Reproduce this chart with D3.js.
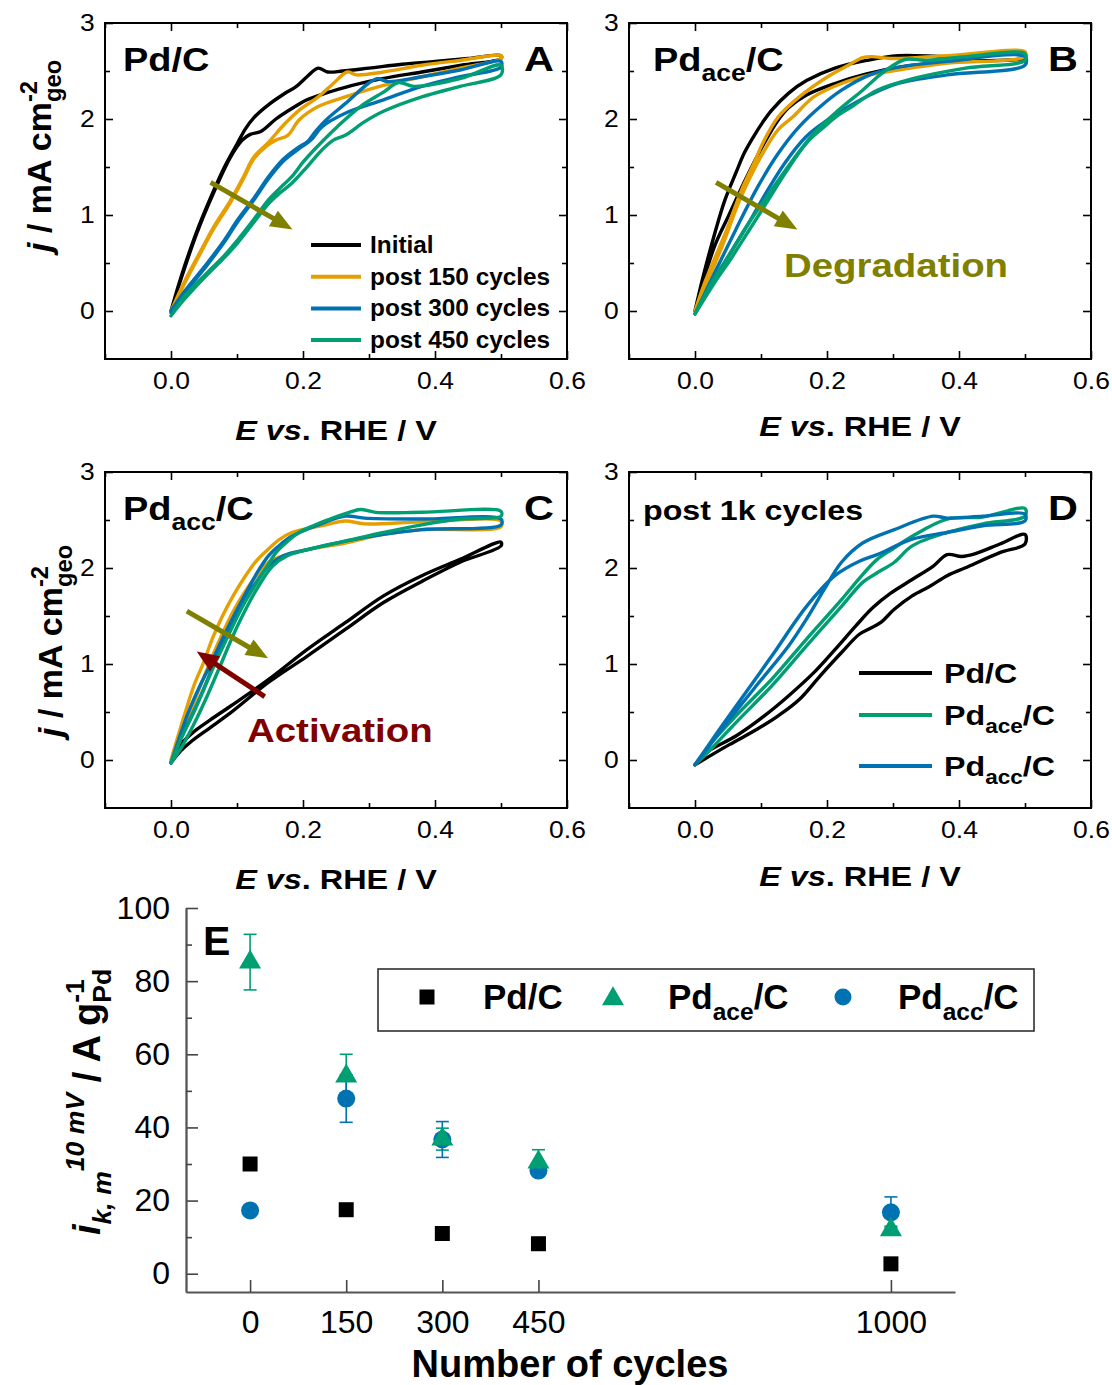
<!DOCTYPE html>
<html>
<head>
<meta charset="utf-8">
<script src="https://cdn.jsdelivr.net/npm/d3@7"></script>
<style>
  body { margin: 0; background: #fff; }
  svg { display: block; }
  text { font-family: "Liberation Sans", Arial, sans-serif; }
</style>
</head>
<body>
<div id="fig"></div>
<script>
// ---- data: polarisation loops [E (V vs RHE), j (mA cm-2)] ----
// panel A : Pd/C
var aInitial = [[0,0],[0.015,0.35],[0.038,0.81],[0.06,1.18],[0.081,1.5],[0.1,1.74],[0.113,1.9],[0.125,2.01],[0.148,2.15],[0.171,2.26],[0.19,2.34],[0.206,2.44],[0.223,2.53],[0.237,2.49],[0.26,2.5],[0.3,2.53],[0.35,2.57],[0.4,2.6],[0.45,2.63],[0.5,2.66],
  [0.5,2.63],[0.44,2.56],[0.38,2.49],[0.32,2.42],[0.264,2.33],[0.206,2.2],[0.188,2.13],[0.159,2.0],[0.136,1.87],[0.12,1.84],[0.108,1.78],[0.09,1.6],[0.06,1.16],[0.038,0.79],[0.015,0.33],[0,0]];
var a150 = [[0,0],[0.02,0.3],[0.043,0.6],[0.065,0.88],[0.09,1.15],[0.11,1.4],[0.125,1.6],[0.148,1.76],[0.171,1.94],[0.194,2.09],[0.223,2.23],[0.246,2.37],[0.267,2.49],[0.281,2.46],[0.322,2.49],[0.38,2.56],[0.438,2.61],[0.5,2.66],
  [0.5,2.63],[0.438,2.53],[0.38,2.44],[0.322,2.35],[0.264,2.23],[0.223,2.13],[0.194,1.99],[0.177,1.83],[0.159,1.78],[0.145,1.72],[0.125,1.58],[0.11,1.38],[0.09,1.13],[0.065,0.86],[0.043,0.58],[0.02,0.28],[0,0]];
var a300 = [[0,0],[0.02,0.2],[0.055,0.5],[0.08,0.73],[0.101,0.95],[0.125,1.17],[0.148,1.4],[0.17,1.58],[0.194,1.71],[0.206,1.76],[0.22,1.88],[0.235,1.99],[0.264,2.16],[0.299,2.37],[0.313,2.42],[0.328,2.39],[0.38,2.44],[0.438,2.51],[0.5,2.6],
  [0.5,2.54],[0.438,2.44],[0.38,2.34],[0.322,2.2],[0.264,2.06],[0.229,1.92],[0.212,1.78],[0.194,1.69],[0.17,1.56],[0.148,1.38],[0.125,1.15],[0.101,0.93],[0.08,0.71],[0.055,0.48],[0.02,0.18],[0,-0.02]];
var a450 = [[0,-0.05],[0.02,0.15],[0.055,0.4],[0.08,0.57],[0.101,0.74],[0.125,0.95],[0.148,1.16],[0.165,1.28],[0.183,1.4],[0.2,1.55],[0.217,1.68],[0.252,1.92],[0.287,2.13],[0.322,2.28],[0.345,2.38],[0.368,2.34],[0.438,2.42],[0.5,2.56],
  [0.5,2.46],[0.438,2.34],[0.38,2.23],[0.322,2.08],[0.293,1.97],[0.264,1.83],[0.246,1.78],[0.229,1.68],[0.206,1.5],[0.183,1.33],[0.165,1.23],[0.148,1.12],[0.125,0.92],[0.101,0.71],[0.08,0.55],[0.055,0.38],[0.02,0.12],[0,-0.05]];
// panel B : Pd_ace/C
var bInitial = [[0,0],[0.012,0.35],[0.03,0.81],[0.045,1.15],[0.062,1.44],[0.075,1.65],[0.089,1.82],[0.102,1.96],[0.116,2.09],[0.142,2.27],[0.169,2.4],[0.212,2.53],[0.26,2.61],[0.308,2.66],[0.382,2.65],[0.44,2.66],[0.5,2.68],
  [0.5,2.64],[0.4,2.6],[0.32,2.55],[0.26,2.47],[0.212,2.37],[0.169,2.25],[0.142,2.12],[0.125,1.98],[0.105,1.75],[0.08,1.42],[0.05,0.98],[0.03,0.68],[0.012,0.3],[0,0]];
var b150 = [[0,0],[0.015,0.3],[0.03,0.55],[0.046,0.81],[0.06,1.07],[0.073,1.3],[0.09,1.55],[0.105,1.78],[0.126,2.02],[0.158,2.23],[0.201,2.44],[0.235,2.57],[0.254,2.64],[0.268,2.65],[0.297,2.63],[0.382,2.66],[0.5,2.7],
  [0.5,2.65],[0.38,2.58],[0.308,2.51],[0.265,2.46],[0.222,2.37],[0.18,2.23],[0.148,2.02],[0.126,1.89],[0.1,1.61],[0.068,1.16],[0.041,0.67],[0.015,0.25],[0,0]];
var b300 = [[0,-0.03],[0.03,0.4],[0.062,0.85],[0.094,1.28],[0.126,1.64],[0.158,1.92],[0.19,2.13],[0.222,2.3],[0.265,2.46],[0.308,2.54],[0.382,2.6],[0.5,2.65],
  [0.5,2.56],[0.382,2.46],[0.308,2.37],[0.265,2.25],[0.233,2.13],[0.201,1.99],[0.169,1.82],[0.137,1.55],[0.105,1.2],[0.08,0.9],[0.055,0.62],[0.03,0.33],[0,-0.03]];
var b450 = [[0,-0.03],[0.03,0.35],[0.055,0.62],[0.078,0.88],[0.116,1.26],[0.148,1.57],[0.18,1.85],[0.217,2.09],[0.254,2.3],[0.286,2.49],[0.318,2.62],[0.35,2.61],[0.41,2.65],[0.5,2.68],
  [0.5,2.61],[0.41,2.53],[0.33,2.42],[0.276,2.3],[0.238,2.13],[0.217,2.04],[0.196,1.92],[0.169,1.75],[0.137,1.44],[0.105,1.09],[0.08,0.82],[0.055,0.55],[0.03,0.3],[0,-0.03]];
// panel C : Pd_acc/C
var cInitial = [[0,-0.03],[0.01,0.12],[0.032,0.28],[0.06,0.42],[0.09,0.56],[0.148,0.84],[0.206,1.15],[0.264,1.43],[0.322,1.71],[0.38,1.92],[0.438,2.09],[0.5,2.27],
  [0.5,2.23],[0.438,2.06],[0.38,1.86],[0.322,1.64],[0.264,1.36],[0.206,1.08],[0.148,0.81],[0.09,0.49],[0.06,0.34],[0.032,0.2],[0.01,0.06],[0,-0.03]];
var c150 = [[0,0],[0.02,0.46],[0.035,0.78],[0.049,1.01],[0.063,1.27],[0.078,1.5],[0.095,1.72],[0.113,1.92],[0.13,2.08],[0.148,2.2],[0.165,2.3],[0.183,2.37],[0.235,2.45],[0.264,2.49],[0.293,2.46],[0.38,2.48],[0.5,2.49],
  [0.5,2.43],[0.38,2.4],[0.322,2.35],[0.264,2.26],[0.206,2.19],[0.171,2.13],[0.148,2.06],[0.125,1.88],[0.096,1.57],[0.067,1.15],[0.045,0.78],[0.032,0.55],[0.015,0.25],[0,0]];
var c300 = [[0,-0.03],[0.026,0.49],[0.043,0.76],[0.061,1.01],[0.075,1.22],[0.09,1.43],[0.105,1.63],[0.119,1.81],[0.133,1.98],[0.148,2.13],[0.165,2.24],[0.183,2.33],[0.223,2.45],[0.264,2.54],[0.293,2.52],[0.38,2.51],[0.5,2.51],
  [0.5,2.45],[0.38,2.4],[0.322,2.35],[0.264,2.28],[0.206,2.19],[0.171,2.13],[0.148,2.02],[0.125,1.81],[0.101,1.53],[0.072,1.11],[0.05,0.75],[0.038,0.56],[0.015,0.22],[0,-0.03]];
var c450 = [[0,-0.03],[0.015,0.22],[0.032,0.46],[0.05,0.74],[0.067,1.01],[0.085,1.27],[0.101,1.5],[0.115,1.68],[0.13,1.85],[0.145,2.01],[0.159,2.16],[0.177,2.28],[0.194,2.37],[0.241,2.51],[0.27,2.58],[0.287,2.61],[0.31,2.58],[0.38,2.58],[0.5,2.59],
  [0.5,2.54],[0.438,2.51],[0.38,2.45],[0.322,2.37],[0.264,2.28],[0.206,2.19],[0.177,2.13],[0.154,2.02],[0.13,1.78],[0.101,1.4],[0.072,0.94],[0.055,0.67],[0.038,0.42],[0.015,0.12],[0,-0.03]];
// panel D : post 1k cycles
var dPdc = [[0,-0.05],[0.02,0.09],[0.062,0.25],[0.105,0.46],[0.142,0.67],[0.18,0.91],[0.212,1.15],[0.244,1.4],[0.27,1.59],[0.297,1.74],[0.329,1.88],[0.361,2.02],[0.382,2.14],[0.404,2.12],[0.425,2.15],[0.462,2.25],[0.5,2.35],
  [0.5,2.25],[0.462,2.16],[0.409,2.0],[0.382,1.92],[0.356,1.81],[0.329,1.71],[0.302,1.57],[0.281,1.43],[0.265,1.37],[0.249,1.31],[0.222,1.12],[0.19,0.88],[0.158,0.63],[0.126,0.46],[0.094,0.32],[0.052,0.16],[0,-0.05]];
var dAce = [[0,-0.05],[0.025,0.18],[0.062,0.46],[0.116,0.84],[0.169,1.26],[0.222,1.67],[0.25,1.9],[0.276,2.09],[0.3,2.2],[0.329,2.33],[0.382,2.51],[0.436,2.53],[0.5,2.62],
  [0.5,2.54],[0.436,2.46],[0.382,2.37],[0.329,2.23],[0.302,2.06],[0.276,1.95],[0.254,1.85],[0.222,1.6],[0.169,1.19],[0.116,0.77],[0.062,0.39],[0.025,0.12],[0,-0.05]];
var dAcc = [[0,-0.05],[0.036,0.28],[0.089,0.74],[0.142,1.19],[0.17,1.48],[0.196,1.78],[0.222,2.06],[0.254,2.26],[0.302,2.4],[0.361,2.54],[0.382,2.52],[0.436,2.54],[0.5,2.56],
  [0.5,2.49],[0.436,2.44],[0.382,2.37],[0.329,2.3],[0.276,2.14],[0.249,2.07],[0.212,1.92],[0.169,1.6],[0.116,1.08],[0.062,0.56],[0.03,0.25],[0,-0.05]];

var eTicks = [0, 0.2, 0.4, 0.6], eMinor = [-0.1, 0.1, 0.3, 0.5];
var jTicks = [0, 1, 2, 3], jMinor = [0.5, 1.5, 2.5];

// panel E : mass activity vs number of cycles
var cycles = [0, 150, 300, 450, 1000];
var pdcMass = [30, 17.5, 11, 8.2, 2.7];
var aceMass = [85.2, 54, 36.8, 30.5, 12];
var aceErr  = [7.6, 6, 3, 3.4, 1];
var accMass = [17.3, 47.9, 36.7, 28.2, 16.8];
var accErr  = [0.8, 6.5, 4.9, 1.2, 4.2];
var massTicks = [0, 20, 40, 60, 80, 100], massMinor = [10, 30, 50, 70, 90];

var BLACK = "#000", ORANGE = "#E69F00", BLUE = "#0072B2", GREEN = "#009E73";
var OLIVE = "#808000", DRED = "#800000";

var W = 1112, H = 1385, PW = 462, PH = 336, SX = 1.15;

var svg = d3.select("#fig").append("svg")
  .attr("width", W).attr("height", H);

// text with sub/superscripts, tspans
function rich(parent, x, y, parts, o) {
  var tr = "translate(" + x + "," + y + ")";
  if (o.rot) tr += " rotate(" + o.rot + ") scale(1," + (o.sx || 1) + ")";
  else tr += " scale(" + (o.sx || 1) + ",1)";
  var g = parent.append("g").attr("transform", tr);
  var t = g.append("text")
    .attr("font-size", o.size)
    .attr("font-weight", o.weight || "bold")
    .attr("text-anchor", o.anchor || "start")
    .attr("fill", o.fill || "#000");
  var fs = o.size, shift = 0, lastLen = 0;
  parts.forEach(function(p) {
    var kind = p[1] || "n";
    var target = kind === "sup" ? -0.42 * fs : (kind === "sub" || kind === "stack") ? 0.3 * fs : 0;
    var ts = t.append("tspan").text(p[0]).attr("dy", target - shift);
    shift = target;
    if (kind !== "n") ts.attr("font-size", 0.7 * fs);
    if (p[2]) ts.attr("font-style", "italic");
    if (kind === "stack") ts.attr("dx", -lastLen);
    lastLen = ts.node().getComputedTextLength();
  });
  return g;
}

function arrow(g, x1, y1, x2, y2, color) {
  var dx = x2 - x1, dy = y2 - y1, L = Math.sqrt(dx * dx + dy * dy);
  var ux = dx / L, uy = dy / L, hl = 22, hw = 9;
  var bx = x2 - ux * hl, by = y2 - uy * hl;
  g.append("line").attr("x1", x1).attr("y1", y1).attr("x2", bx + ux * 2).attr("y2", by + uy * 2)
    .attr("stroke", color).attr("stroke-width", 5);
  g.append("path")
    .attr("d", "M" + x2 + "," + y2 + "L" + (bx - uy * hw) + "," + (by + ux * hw) +
      "L" + (bx + uy * hw) + "," + (by - ux * hw) + "Z")
    .attr("fill", color);
}

function cvPanel(p) {
  var x = d3.scaleLinear().domain([-0.1, 0.6]).range([p.left, p.left + PW]);
  var y = d3.scaleLinear().domain([-0.5, 3]).range([p.top + PH, p.top]);
  var g = svg.append("g");

  var bot = p.top + PH, right = p.left + PW;
  g.append("g").attr("transform", "translate(0," + bot + ")")
    .call(d3.axisBottom(x).tickValues(eTicks).tickSize(-8).tickSizeOuter(0).tickPadding(14).tickFormat(d3.format(".1f")));
  g.append("g").attr("transform", "translate(0," + bot + ")")
    .call(d3.axisBottom(x).tickValues(eMinor).tickSize(-5).tickSizeOuter(0).tickFormat(""));
  g.append("g").attr("transform", "translate(0," + p.top + ")")
    .call(d3.axisTop(x).tickValues(eTicks).tickSize(-8).tickSizeOuter(0).tickFormat(""));
  g.append("g").attr("transform", "translate(0," + p.top + ")")
    .call(d3.axisTop(x).tickValues(eMinor).tickSize(-5).tickSizeOuter(0).tickFormat(""));
  g.append("g").attr("transform", "translate(" + p.left + ",0)")
    .call(d3.axisLeft(y).tickValues(jTicks).tickSize(-8).tickSizeOuter(0).tickPadding(9).tickFormat(d3.format("d")));
  g.append("g").attr("transform", "translate(" + p.left + ",0)")
    .call(d3.axisLeft(y).tickValues(jMinor).tickSize(-5).tickSizeOuter(0).tickFormat(""));
  g.append("g").attr("transform", "translate(" + right + ",0)")
    .call(d3.axisRight(y).tickValues(jTicks).tickSize(-8).tickSizeOuter(0).tickFormat(""));
  g.append("g").attr("transform", "translate(" + right + ",0)")
    .call(d3.axisRight(y).tickValues(jMinor).tickSize(-5).tickSizeOuter(0).tickFormat(""));
  g.selectAll(".domain").remove();
  g.selectAll(".tick line").attr("stroke", "#000").attr("stroke-width", 1.6);
  g.selectAll(".tick text")
    .attr("font-size", 23).attr("font-family", "Liberation Sans, Arial, sans-serif")
    .attr("fill", "#000").attr("transform", "scale(" + SX + ",1)");

  var line = d3.line()
    .x(function(d) { return x(d[0]); })
    .y(function(d) { return y(d[1]); })
    .curve(d3.curveCatmullRom.alpha(0.5));
  p.curves.forEach(function(c) {
    g.append("path").datum(c.data).attr("d", line)
      .attr("fill", "none").attr("stroke", c.color).attr("stroke-width", 3.4)
      .attr("stroke-linejoin", "round").attr("stroke-linecap", "round");
  });

  g.append("rect").attr("x", p.left).attr("y", p.top).attr("width", PW).attr("height", PH)
    .attr("fill", "none").attr("stroke", "#000").attr("stroke-width", 2);

  // axis titles
  rich(g, p.left + PW / 2, p.xlabY,
    [["E", "n", true], [" vs", "n", true], [". RHE / V"]],
    { size: 27, anchor: "middle", sx: 1.2 });
  if (p.ylab) {
    rich(g, p.ylab[0], p.ylab[1],
      [["j", "n", true], [" / mA cm"], ["-2", "sup"], ["geo", "stack"]],
      { size: 34, rot: -90 });
  }
  // panel tags
  rich(g, p.titleX, p.top + 48, p.title, { size: p.titleSize || 33, sx: SX });
  rich(g, right - 13, p.top + 48, [[p.tag]], { size: 36, anchor: "end", sx: SX });

  return { g: g, x: x, y: y };
}

// ---- panel A ----
var A = cvPanel({
  left: 105, top: 23, xlabY: 440, ylab: [51, 252], tag: "A", titleX: 123, title: [["Pd/C"]],
  curves: [{ data: aInitial, color: BLACK }, { data: a150, color: ORANGE },
           { data: a300, color: BLUE }, { data: a450, color: GREEN }]
});
arrow(A.g, A.x(0.06), A.y(1.34), A.x(0.184), A.y(0.85), OLIVE);
var legA = [["Initial", BLACK], ["post 150 cycles", ORANGE], ["post 300 cycles", BLUE], ["post 450 cycles", GREEN]];
legA.forEach(function(d, i) {
  var ly = 245 + i * 31.7;
  A.g.append("line").attr("x1", 311).attr("x2", 361).attr("y1", ly).attr("y2", ly)
    .attr("stroke", d[1]).attr("stroke-width", 4);
  rich(A.g, 370, ly + 8, [[d[0]]], { size: 23, sx: 1.06 });
});

// ---- panel B ----
var B = cvPanel({
  left: 629, top: 23, xlabY: 436, tag: "B", titleX: 653, title: [["Pd"], ["ace", "sub"], ["/C"]],
  curves: [{ data: bInitial, color: BLACK }, { data: b150, color: ORANGE },
           { data: b300, color: BLUE }, { data: b450, color: GREEN }]
});
arrow(B.g, B.x(0.032), B.y(1.34), B.x(0.155), B.y(0.85), OLIVE);
rich(B.g, 784, 277, [["Degradation"]], { size: 34, sx: 1.13, fill: OLIVE });

// ---- panel C ----
var C = cvPanel({
  left: 105, top: 472, xlabY: 889, ylab: [62, 737], tag: "C", titleX: 123, title: [["Pd"], ["acc", "sub"], ["/C"]],
  curves: [{ data: cInitial, color: BLACK }, { data: c150, color: ORANGE },
           { data: c300, color: BLUE }, { data: c450, color: GREEN }]
});
arrow(C.g, C.x(0.024), C.y(1.55), C.x(0.147), C.y(1.06), OLIVE);
arrow(C.g, C.x(0.142), C.y(0.66), C.x(0.039), C.y(1.13), DRED);
rich(C.g, 247, 742, [["Activation"]], { size: 34, sx: 1.13, fill: DRED });

// ---- panel D ----
var D = cvPanel({
  left: 629, top: 472, xlabY: 886, tag: "D", titleX: 643, titleSize: 28, title: [["post 1k cycles"]],
  curves: [{ data: dPdc, color: BLACK }, { data: dAce, color: GREEN }, { data: dAcc, color: BLUE }]
});
var legD = [[[["Pd/C"]], BLACK, 673], [[["Pd"], ["ace", "sub"], ["/C"]], GREEN, 715], [[["Pd"], ["acc", "sub"], ["/C"]], BLUE, 766]];
legD.forEach(function(d) {
  D.g.append("line").attr("x1", 859).attr("x2", 932).attr("y1", d[2]).attr("y2", d[2])
    .attr("stroke", d[1]).attr("stroke-width", 4);
  rich(D.g, 944, d[2] + 10, d[0], { size: 28, sx: SX });
});

// ---- panel E ----
var ex = d3.scaleLinear().domain([-100, 1100]).range([186, 955]);
var ey = d3.scaleLinear().domain([-5, 100]).range([1292, 908]);
var gE = svg.append("g");

gE.append("g").attr("transform", "translate(0,1292)")
  .call(d3.axisBottom(ex).tickValues(cycles).tickSize(-12).tickSizeOuter(0).tickPadding(18).tickFormat(d3.format("d")));
gE.append("g").attr("transform", "translate(186,0)")
  .call(d3.axisLeft(ey).tickValues(massTicks).tickSize(-12).tickSizeOuter(0).tickPadding(16).tickFormat(d3.format("d")));
gE.append("g").attr("transform", "translate(186,0)")
  .call(d3.axisLeft(ey).tickValues(massMinor).tickSize(-6).tickSizeOuter(0).tickFormat(""));
gE.selectAll(".domain").attr("stroke", "#555").attr("stroke-width", 1.8);
gE.selectAll(".tick line").attr("stroke", "#444").attr("stroke-width", 1.6);
gE.selectAll(".tick text").attr("font-size", 32).attr("fill", "#000")
  .attr("font-family", "Liberation Sans, Arial, sans-serif");

// error bars
function errBars(vals, errs, color) {
  cycles.forEach(function(c, i) {
    var xx = ex(c), y1 = ey(vals[i] - errs[i]), y2 = ey(vals[i] + errs[i]);
    gE.append("line").attr("x1", xx).attr("x2", xx).attr("y1", y1).attr("y2", y2)
      .attr("stroke", color).attr("stroke-width", 1.6);
    [y1, y2].forEach(function(yy) {
      gE.append("line").attr("x1", xx - 6.5).attr("x2", xx + 6.5).attr("y1", yy).attr("y2", yy)
        .attr("stroke", color).attr("stroke-width", 1.6);
    });
  });
}
errBars(aceMass, aceErr, GREEN);
errBars(accMass, accErr, BLUE);

var sq = d3.symbol(d3.symbolSquare, 225), tri = d3.symbol(d3.symbolTriangle, 210);
gE.selectAll(".pdc").data(cycles).enter().append("path")
  .attr("d", sq).attr("fill", BLACK)
  .attr("transform", function(d, i) { return "translate(" + ex(d) + "," + ey(pdcMass[i]) + ")"; });
gE.selectAll(".acc").data(cycles).enter().append("circle")
  .attr("cx", function(d) { return ex(d); })
  .attr("cy", function(d, i) { return ey(accMass[i]); })
  .attr("r", 9).attr("fill", BLUE);
gE.selectAll(".ace").data(cycles).enter().append("path")
  .attr("d", tri).attr("fill", GREEN)
  .attr("transform", function(d, i) { return "translate(" + ex(d) + "," + ey(aceMass[i]) + ")"; });

// legend
gE.append("rect").attr("x", 378).attr("y", 969).attr("width", 656).attr("height", 62)
  .attr("fill", "#fff").attr("stroke", "#222").attr("stroke-width", 1.5);
gE.append("path").attr("d", sq).attr("fill", BLACK).attr("transform", "translate(427,997)");
gE.append("path").attr("d", tri).attr("fill", GREEN).attr("transform", "translate(613,999)");
gE.append("circle").attr("cx", 843).attr("cy", 997).attr("r", 8.5).attr("fill", BLUE);
rich(gE, 483, 1009, [["Pd/C"]], { size: 35 });
rich(gE, 668, 1009, [["Pd"], ["ace", "sub"], ["/C"]], { size: 35 });
rich(gE, 898, 1009, [["Pd"], ["acc", "sub"], ["/C"]], { size: 35 });

rich(gE, 203, 955, [["E"]], { size: 41 });
rich(gE, 570, 1377, [["Number of cycles"]], { size: 38, anchor: "middle" });
rich(gE, 100, 1235,
  [["i", "n", true], ["k, m", "sub", true], ["10 mV", "sup", true], [" / A g"], ["-1", "sup"], ["Pd", "stack"]],
  { size: 38, rot: -90 });
</script>
</body>
</html>
